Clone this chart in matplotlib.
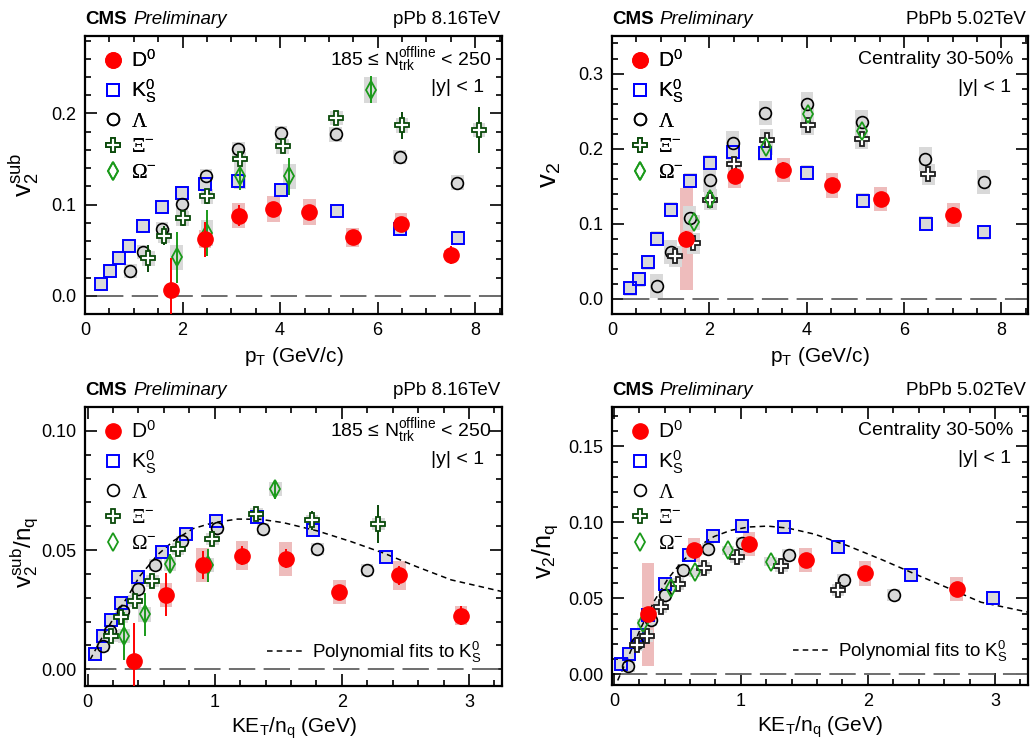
import matplotlib
matplotlib.use('Agg')
import matplotlib.pyplot as plt
import numpy as np
from matplotlib.ticker import MultipleLocator, FormatStrFormatter

plt.rcParams['font.family'] = ['Liberation Sans', 'DejaVu Sans']
plt.rcParams['mathtext.fontset'] = 'custom'
plt.rcParams['mathtext.rm'] = 'Liberation Serif'
plt.rcParams['mathtext.sf'] = 'Liberation Sans'
plt.rcParams['mathtext.it'] = 'Liberation Sans:italic'
plt.rcParams['mathtext.bf'] = 'Liberation Sans:bold'
plt.rcParams['lines.scale_dashes'] = False

# ---- pPb 8.16 TeV, v2sub vs pT ----
pt_pPb_D0 = [1.77, 2.46, 3.15, 3.86, 4.60, 5.49, 6.48, 7.50]
v2_pPb_D0 = [0.006, 0.062, 0.088, 0.095, 0.092, 0.064, 0.079, 0.045]
stat_pPb_D0 = [0.035, 0.019, 0.012, 0.008, 0.007, 0.005, 0.007, 0.010]
sys_pPb_D0 = [0.002, 0.010, 0.014, 0.014, 0.014, 0.010, 0.012, 0.005]

pt_pPb_K0s = [0.33, 0.51, 0.70, 0.90, 1.18, 1.58, 1.98, 2.46, 3.14, 4.02, 5.17, 6.46, 7.64]
v2_pPb_K0s = [0.013, 0.027, 0.041, 0.055, 0.077, 0.097, 0.113, 0.123, 0.126, 0.116, 0.093, 0.073, 0.063]

pt_pPb_Lam = [0.93, 1.19, 1.58, 1.99, 2.48, 3.14, 4.02, 5.14, 6.45, 7.63]
v2_pPb_Lam = [0.027, 0.048, 0.073, 0.101, 0.131, 0.161, 0.178, 0.177, 0.152, 0.124]

pt_pPb_Xi = [1.30, 1.62, 2.00, 2.50, 3.18, 4.05, 5.15, 6.50, 8.08]
v2_pPb_Xi = [0.041, 0.066, 0.085, 0.109, 0.150, 0.164, 0.195, 0.187, 0.182]
stat_pPb_Xi = [0.015, 0.010, 0.008, 0.008, 0.008, 0.007, 0.008, 0.015, 0.025]

pt_pPb_Om = [1.88, 2.50, 3.18, 4.19, 5.86]
v2_pPb_Om = [0.042, 0.069, 0.131, 0.131, 0.226]
stat_pPb_Om = [0.028, 0.025, 0.015, 0.020, 0.015]

# ---- PbPb 5.02 TeV, v2 vs pT ----
pt_PbPb_D0 = [1.53, 2.52, 3.52, 4.52, 5.52, 7.02]
v2_PbPb_D0 = [0.080, 0.164, 0.172, 0.151, 0.133, 0.112]
stat_PbPb_D0 = [0.010, 0.010, 0.010, 0.008, 0.010, 0.010]
sys_PbPb_D0 = [0.068, 0.016, 0.016, 0.016, 0.016, 0.016]

pt_PbPb_K0s = [0.38, 0.55, 0.74, 0.93, 1.21, 1.61, 2.01, 2.48, 3.14, 4.01, 5.15, 6.45, 7.64]
v2_PbPb_K0s = [0.014, 0.026, 0.049, 0.080, 0.119, 0.157, 0.181, 0.195, 0.194, 0.168, 0.131, 0.100, 0.089]

pt_PbPb_Lam = [0.92, 1.21, 1.60, 2.01, 2.48, 3.15, 4.01, 5.13, 6.44, 7.64]
v2_PbPb_Lam = [0.017, 0.063, 0.108, 0.158, 0.207, 0.247, 0.260, 0.236, 0.186, 0.156]

pt_PbPb_Xi = [1.30, 1.67, 2.02, 2.51, 3.18, 4.02, 5.13, 6.50]
v2_PbPb_Xi = [0.057, 0.074, 0.132, 0.180, 0.212, 0.232, 0.213, 0.166]

pt_PbPb_Om = [1.68, 2.02, 3.17, 4.03, 5.13]
v2_PbPb_Om = [0.102, 0.133, 0.202, 0.246, 0.224]

# ---- pPb 8.16 TeV, v2sub/nq vs KET/nq ----
ket_pPb_D0 = [0.365, 0.617, 0.906, 1.215, 1.559, 1.979, 2.451, 2.937]
v2nq_pPb_D0 = [0.0035, 0.0312, 0.0438, 0.0477, 0.0463, 0.0324, 0.0394, 0.0225]
stat_nq_pPb_D0 = [0.016, 0.009, 0.006, 0.004, 0.004, 0.003, 0.004, 0.004]
sys_nq_pPb_D0 = [0.001, 0.005, 0.007, 0.006, 0.007, 0.005, 0.006, 0.004]

ket_pPb_K0s = [0.055, 0.118, 0.186, 0.265, 0.394, 0.585, 0.774, 1.013, 1.336, 1.774, 2.344]
v2nq_pPb_K0s = [0.0063, 0.0140, 0.0207, 0.0280, 0.0386, 0.0490, 0.0568, 0.0620, 0.0639, 0.0585, 0.0470]

ket_pPb_Lam = [0.118, 0.176, 0.281, 0.394, 0.533, 0.743, 1.018, 1.381, 1.806, 2.197]
v2nq_pPb_Lam = [0.0097, 0.0160, 0.0246, 0.0337, 0.0439, 0.0536, 0.0593, 0.0590, 0.0505, 0.0415]

ket_pPb_Xi = [0.186, 0.265, 0.370, 0.509, 0.711, 0.982, 1.328, 1.766, 2.286]
v2nq_pPb_Xi = [0.0141, 0.0220, 0.0288, 0.0369, 0.0503, 0.0547, 0.0653, 0.0624, 0.0608]
stat_nq_pPb_Xi = [0.003, 0.002, 0.002, 0.002, 0.002, 0.002, 0.002, 0.004, 0.008]

ket_pPb_Om = [0.286, 0.449, 0.648, 0.945, 1.478]
v2nq_pPb_Om = [0.0140, 0.0230, 0.0442, 0.0436, 0.0755]
stat_nq_pPb_Om = [0.010, 0.009, 0.004, 0.007, 0.004]

ket_fit_pPb = [0.02, 0.10, 0.20, 0.31, 0.41, 0.55, 0.68, 0.83, 0.99, 1.18, 1.36, 1.54,
               1.81, 2.07, 2.33, 2.59, 2.86, 3.26]
v2nq_fit_pPb = [0.004, 0.012, 0.021, 0.030, 0.039, 0.048, 0.054, 0.059, 0.0615, 0.063, 0.0629,
                0.0615, 0.058, 0.0536, 0.0487, 0.043, 0.0375, 0.0326]

# ---- PbPb 5.02 TeV, v2/nq vs KET/nq ----
ket_PbPb_D0 = [0.268, 0.630, 1.064, 1.510, 1.978, 2.700]
v2nq_PbPb_D0 = [0.0396, 0.0818, 0.0860, 0.0753, 0.0665, 0.0562]
stat_nq_PbPb_D0 = [0.004, 0.004, 0.004, 0.004, 0.004, 0.004]
sys_nq_PbPb_D0 = [0.034, 0.008, 0.008, 0.008, 0.008, 0.008]

ket_PbPb_K0s = [0.058, 0.123, 0.186, 0.268, 0.405, 0.588, 0.780, 1.011, 1.337, 1.765, 2.338, 2.987]
v2nq_PbPb_K0s = [0.0070, 0.0131, 0.0256, 0.0394, 0.0597, 0.0788, 0.0910, 0.0974, 0.0969, 0.0836, 0.0654, 0.0503]

ket_PbPb_Lam = [0.113, 0.186, 0.292, 0.402, 0.544, 0.741, 1.011, 1.376, 1.810, 2.204]
v2nq_PbPb_Lam = [0.0057, 0.0208, 0.0361, 0.0521, 0.0687, 0.0823, 0.0867, 0.0786, 0.0621, 0.0521]

ket_PbPb_Xi = [0.179, 0.260, 0.368, 0.504, 0.709, 0.967, 1.319, 1.765]
v2nq_PbPb_Xi = [0.0195, 0.0252, 0.0446, 0.0593, 0.0700, 0.0775, 0.0711, 0.0554]

ket_PbPb_Om = [0.231, 0.447, 0.638, 0.898, 1.235]
v2nq_PbPb_Om = [0.0337, 0.0571, 0.0672, 0.0816, 0.0742]

ket_fit_PbPb = [0.03, 0.11, 0.215, 0.32, 0.425, 0.53, 0.66, 0.79, 0.92, 1.06, 1.21, 1.37,
                1.58, 1.84, 2.11, 2.37, 2.63, 2.89, 3.26]
v2nq_fit_PbPb = [-0.004, 0.011, 0.031, 0.0486, 0.0628, 0.0737, 0.084, 0.0908, 0.0948, 0.097,
                 0.0976, 0.0963, 0.0923, 0.0847, 0.0755, 0.0661, 0.0569, 0.0475, 0.041]

labels = {'D0': r'D$^{\mathsf{0}}$', 'K0s': r'K$_{\mathsf{S}}^{\mathsf{0}}$', 'Lam': r'$\Lambda$',
          'Xi': r'$\Xi^{\mathsf{-}}$', 'Om': r'$\Omega^{\mathsf{-}}$'}

styles = {
    'D0': dict(marker='o', ms=11, mfc='#ff0000', mec='#ff0000', mew=1, ecol='#ff0000', box='#eebcbc', z=6),
    'K0s': dict(marker='s', ms=8, mfc='none', mec='#0000ff', mew=1.4, ecol='#0000ff', box='#d9d9d9', z=4),
    'Lam': dict(marker='o', ms=8.5, mfc='none', mec='#000000', mew=1.2, ecol='#000000', box='#d9d9d9', z=4),
    'Xi': dict(marker='P', ms=10, mfc='white', mec='#0a4a0a', mew=1.3, ecol='#0a4a0a', box='#d9d9d9', z=5),
    'Om': dict(marker='d', ms=9, mfc='none', mec='#1a9a1a', mew=1.3, ecol='#1a9a1a', box='#d9d9d9', z=5),
}


def draw(ax, sets, boxw, xr, yr, xmaj, xmin, ymaj, ymin, yfmt, x0line, xcol='#0a4a0a'):
    handles = []
    for name, x, y, stat, sys in sets:
        st = styles[name]
        x = np.array(x)
        y = np.array(y)
        sys = np.array(sys)
        ax.bar(x, 2 * sys, bottom=y - sys, width=2 * boxw, color=st['box'],
               linewidth=0, zorder=1)
    ax.plot([x0line, xr[1]], [0, 0], color='#6e6e6e', lw=1.4, ls=(0, (19, 6)), zorder=2)
    for name, x, y, stat, sys in sets:
        st = styles[name]
        mec = xcol if name == 'Xi' else st['mec']
        if stat is not None:
            ax.errorbar(x, y, yerr=stat, fmt='none', ecolor=st['ecol'] if name != 'Xi' else mec,
                        elinewidth=1.4, capsize=0, zorder=st['z'] - 0.5)
        h, = ax.plot(x, y, ls='none', marker=st['marker'], ms=st['ms'], mfc=st['mfc'],
                     mec=mec, mew=st['mew'], zorder=st['z'], label=labels[name])
        handles.append(h)
    ax.set_xlim(*xr)
    ax.set_ylim(*yr)
    ax.xaxis.set_major_locator(MultipleLocator(xmaj))
    ax.xaxis.set_minor_locator(MultipleLocator(xmin))
    ax.yaxis.set_major_locator(MultipleLocator(ymaj))
    ax.yaxis.set_minor_locator(MultipleLocator(ymin))
    ax.yaxis.set_major_formatter(FormatStrFormatter(yfmt))
    ax.tick_params(which='both', direction='in', top=True, right=True, labelsize=13, width=1.2)
    ax.tick_params(which='major', length=8.5, pad=6)
    ax.tick_params(which='minor', length=4.5)
    for s in ax.spines.values():
        s.set_linewidth(1.6)
    return handles


def header(ax, right):
    h = ax.bbox.height
    yy = 1 + 12 / h
    ax.text(0, yy, 'CMS', transform=ax.transAxes, fontsize=13.5, fontweight='bold', va='baseline')
    ax.text(0.115, yy, 'Preliminary', transform=ax.transAxes, fontsize=13.5, style='italic', va='baseline')
    ax.text(0.995, yy, right, transform=ax.transAxes, fontsize=13.5, ha='right', va='baseline')


def add_legend(ax, handles):
    leg = ax.legend(handles=handles, loc='upper left', bbox_to_anchor=(0.045, 0.953), frameon=False,
                    fontsize=15, handlelength=0.9, handletextpad=0.4, labelspacing=0.32,
                    borderaxespad=0, borderpad=0)
    ax.add_artist(leg)
    return leg


fig = plt.figure(figsize=(10.33, 7.40), dpi=100)
ax1 = fig.add_axes([0.0823, 0.5757, 0.4037, 0.3757])
ax2 = fig.add_axes([0.5924, 0.5757, 0.4027, 0.3757])
ax3 = fig.add_axes([0.0823, 0.0730, 0.4037, 0.3770])
ax4 = fig.add_axes([0.5924, 0.0743, 0.4027, 0.3757])

# top-left
h1 = draw(ax1, [('D0', pt_pPb_D0, v2_pPb_D0, stat_pPb_D0, sys_pPb_D0),
                ('K0s', pt_pPb_K0s, v2_pPb_K0s, None, 0.007),
                ('Lam', pt_pPb_Lam, v2_pPb_Lam, None, 0.008),
                ('Xi', pt_pPb_Xi, v2_pPb_Xi, stat_pPb_Xi, 0.008),
                ('Om', pt_pPb_Om, v2_pPb_Om, stat_pPb_Om, 0.014)],
          0.13, (0, 8.55), (-0.02, 0.285), 2, 0.5, 0.1, 0.02, '%.1f', 0.25)
add_legend(ax1, h1)
ax1.text(0.975, 0.914, r'185 ≤ $\mathsf{N_{trk}^{offline}}$ < 250', transform=ax1.transAxes,
         fontsize=14, ha='right', va='center')
ax1.text(0.958, 0.813, '|y| < 1', transform=ax1.transAxes, fontsize=14, ha='right', va='center')
ax1.set_xlabel(r'$\mathsf{p_{T}}$ (GeV/c)', fontsize=15)
ax1.set_ylabel(r'$\mathsf{v_{2}^{sub}}$', fontsize=19)
ax1.yaxis.set_label_coords(-0.105, 0.5)
ax1.xaxis.set_label_coords(0.5, -0.11)
header(ax1, 'pPb 8.16TeV')

# top-right
h2 = draw(ax2, [('D0', pt_PbPb_D0, v2_PbPb_D0, stat_PbPb_D0, sys_PbPb_D0),
                ('K0s', pt_PbPb_K0s, v2_PbPb_K0s, None, 0.010),
                ('Lam', pt_PbPb_Lam, v2_PbPb_Lam, None, 0.016),
                ('Xi', pt_PbPb_Xi, v2_PbPb_Xi, None, 0.014),
                ('Om', pt_PbPb_Om, v2_PbPb_Om, None, 0.010)],
          0.13, (0, 8.55), (-0.02, 0.35), 2, 0.5, 0.1, 0.02, '%.1f', 0.22, xcol='#1e1e1e')
leg2 = add_legend(ax2, h2)
leg2.legend_handles[3].set_markeredgecolor('#0a4a0a')
ax2.text(0.966, 0.917, 'Centrality 30-50%', transform=ax2.transAxes, fontsize=14, ha='right', va='center')
ax2.text(0.96, 0.813, '|y| < 1', transform=ax2.transAxes, fontsize=14, ha='right', va='center')
ax2.set_xlabel(r'$\mathsf{p_{T}}$ (GeV/c)', fontsize=15)
ax2.set_ylabel(r'$\mathsf{v_{2}}$', fontsize=20)
ax2.yaxis.set_label_coords(-0.118, 0.5)
ax2.xaxis.set_label_coords(0.5, -0.11)
header(ax2, 'PbPb 5.02TeV')

# bottom-left
h3 = draw(ax3, [('D0', ket_pPb_D0, v2nq_pPb_D0, stat_nq_pPb_D0, sys_nq_pPb_D0),
                ('K0s', ket_pPb_K0s, v2nq_pPb_K0s, None, 0.0025),
                ('Lam', ket_pPb_Lam, v2nq_pPb_Lam, None, 0.0025),
                ('Xi', ket_pPb_Xi, v2nq_pPb_Xi, stat_nq_pPb_Xi, 0.0025),
                ('Om', ket_pPb_Om, v2nq_pPb_Om, stat_nq_pPb_Om, 0.003)],
          0.05, (-0.02, 3.26), (-0.007, 0.110), 1, 0.2, 0.05, 0.01, '%.2f', 0.02)
fit3, = ax3.plot(ket_fit_pPb, v2nq_fit_pPb, color='black', lw=1.1, ls=(0, (4, 3)), zorder=3,
                 label=r'Polynomial fits to K$_{\mathsf{S}}^{\mathsf{0}}$')
add_legend(ax3, h3)
ax3.legend(handles=[fit3], loc='lower right', bbox_to_anchor=(0.97, 0.05), frameon=False, fontsize=13.5,
           handlelength=1.9, handletextpad=0.5, borderaxespad=0)
ax3.text(0.975, 0.914, r'185 ≤ $\mathsf{N_{trk}^{offline}}$ < 250', transform=ax3.transAxes,
         fontsize=14, ha='right', va='center')
ax3.text(0.958, 0.813, '|y| < 1', transform=ax3.transAxes, fontsize=14, ha='right', va='center')
ax3.set_xlabel(r'$\mathsf{KE_{T}/n_{q}}$ (GeV)', fontsize=15)
ax3.set_ylabel(r'$\mathsf{v_{2}^{sub}/n_{q}}$', fontsize=17.5)
ax3.yaxis.set_label_coords(-0.108, 0.48)
ax3.xaxis.set_label_coords(0.5, -0.105)
header(ax3, 'pPb 8.16TeV')

# bottom-right
h4 = draw(ax4, [('D0', ket_PbPb_D0, v2nq_PbPb_D0, stat_nq_PbPb_D0, sys_nq_PbPb_D0),
                ('K0s', ket_PbPb_K0s, v2nq_PbPb_K0s, None, 0.004),
                ('Lam', ket_PbPb_Lam, v2nq_PbPb_Lam, None, 0.004),
                ('Xi', ket_PbPb_Xi, v2nq_PbPb_Xi, None, 0.004),
                ('Om', ket_PbPb_Om, v2nq_PbPb_Om, None, 0.003)],
          0.05, (-0.015, 3.26), (-0.007, 0.176), 1, 0.2, 0.05, 0.01, '%.2f', 0.06, xcol='#1e1e1e')
fit4, = ax4.plot(ket_fit_PbPb, v2nq_fit_PbPb, color='black', lw=1.1, ls=(0, (4, 3)), zorder=3,
                 label=r'Polynomial fits to K$_{\mathsf{S}}^{\mathsf{0}}$')
leg4 = add_legend(ax4, h4)
leg4.legend_handles[3].set_markeredgecolor('#0a4a0a')
ax4.legend(handles=[fit4], loc='lower right', bbox_to_anchor=(0.97, 0.05), frameon=False, fontsize=13.5,
           handlelength=1.9, handletextpad=0.5, borderaxespad=0)
ax4.text(0.966, 0.917, 'Centrality 30-50%', transform=ax4.transAxes, fontsize=14, ha='right', va='center')
ax4.text(0.96, 0.813, '|y| < 1', transform=ax4.transAxes, fontsize=14, ha='right', va='center')
ax4.set_xlabel(r'$\mathsf{KE_{T}/n_{q}}$ (GeV)', fontsize=15)
ax4.set_ylabel(r'$\mathsf{v_{2}/n_{q}}$', fontsize=18)
ax4.yaxis.set_label_coords(-0.125, 0.48)
ax4.xaxis.set_label_coords(0.5, -0.105)
header(ax4, 'PbPb 5.02TeV')

fig.savefig('out.png', dpi=100)
